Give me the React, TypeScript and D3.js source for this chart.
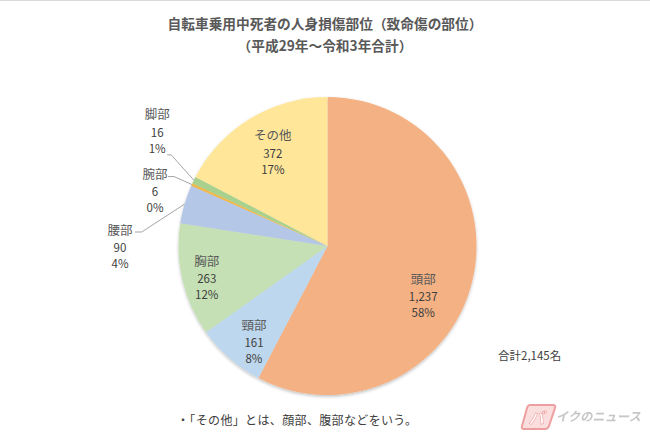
import React from "react";
import * as d3 from "d3";

const categories = ["頭部", "頸部", "胸部", "腰部", "腕部", "脚部", "その他"];
const values = [1237, 161, 263, 90, 6, 16, 372];
const colors = ["#F4B183", "#BDD7EE", "#C5E0B4", "#B4C7E7", "#F0B848", "#A9D18E", "#FFE699"];
const titleLines = ["自転車乗用中死者の人身損傷部位（致命傷の部位）", "（平成29年～令和3年合計）"];
const totalLabel = "合計2,145名";
const footnote = "・「その他」とは、顔部、腹部などをいう。";

// label layout (angle offset in degrees, distance from centre, outside?)
const labelLayout: Record<string, { da: number; r: number; outside: boolean }> = {
  "頭部": { da: 13.8, r: 108, outside: false },
  "頸部": { da: -3.7, r: 121, outside: false },
  "胸部": { da: -1.6, r: 125, outside: false },
  "腰部": { da: -16.6, r: 207.5, outside: true },
  "腕部": { da: -6.7, r: 181, outside: true },
  "脚部": { da: 7.6, r: 205, outside: true },
  "その他": { da: 0.8, r: 108, outside: false },
};
// leader elbow relative to label value position
const leaderLayout: Record<string, { ex: number; ey: number; sx: number }> = {
  "腰部": { ex: 21.7, ey: -15, sx: 15 },
  "腕部": { ex: 19, ey: -14.5, sx: 13 },
  "脚部": { ex: 14, ey: 23, sx: 10 },
};

const W = 650;
const H = 433;
const cx = 327.5;
const cy = 246;
const R = 149;
const FONT = "'Noto Sans CJK JP', 'Noto Sans', sans-serif";

export default function App() {
  const total = d3.sum(values);
  const pie = d3
    .pie<number>()
    .sort(null)
    .value((d) => d)(values);
  const arc = d3.arc<d3.PieArcDatum<number>>().innerRadius(0).outerRadius(R);
  const fmt = d3.format(",");
  const polar = (angDeg: number, r: number): [number, number] => {
    const a = (angDeg * Math.PI) / 180;
    return [cx + r * Math.sin(a), cy - r * Math.cos(a)];
  };

  return (
    <div style={{ position: "absolute", left: 0, top: 0 }}>
      <svg width={W} height={H} style={{ display: "block", background: "#fff" }}>
        <defs>
          <filter id="sh" x="-20%" y="-20%" width="140%" height="140%">
            <feDropShadow dx="0" dy="1.5" stdDeviation="1.5" floodColor="#000" floodOpacity="0.25" />
          </filter>
        </defs>
        <line x1={0} x2={W} y1={0.5} y2={0.5} stroke="#d9d9d9" strokeWidth={1} />
        {titleLines.map((t, i) => (
          <text
            key={i}
            x={325}
            y={23 + i * 22}
            textAnchor="middle"
            dominantBaseline="central"
            fontFamily={FONT}
            fontWeight="bold"
            fontSize={13.7}
            fill="#595959"
          >
            {t}
          </text>
        ))}
        <g transform={`translate(${cx},${cy})`} filter="url(#sh)">
          {pie.map((p, i) => (
            <path key={i} d={arc(p) || ""} fill={colors[i]} stroke="none" />
          ))}
        </g>
        {pie.map((p, i) => {
          const name = categories[i];
          const lay = labelLayout[name];
          const mid = (((p.startAngle + p.endAngle) / 2) * 180) / Math.PI;
          const [lx, ly] = polar(mid + lay.da, lay.r);
          const pct = Math.round((values[i] / total) * 100) + "%";
          let leader = null;
          if (lay.outside) {
            const ll = leaderLayout[name];
            const [ax, ay] = polar(mid, R);
            const pts: [number, number][] = [
              [ax, ay],
              [lx + ll.ex, ly + ll.ey],
              [lx + ll.sx, ly + ll.ey],
            ];
            leader = (
              <path
                d={d3.line()(pts) || ""}
                fill="none"
                stroke="#A6A6A6"
                strokeWidth={1}
              />
            );
          }
          return (
            <g key={i}>
              {leader}
              <text x={lx} y={ly - 18} textAnchor="middle" dominantBaseline="central" fontFamily={FONT} fontSize={12.5} fill="#595959">
                {name}
              </text>
              <text x={lx} y={ly} textAnchor="middle" dominantBaseline="central" fontFamily={FONT} fontSize={11.5} fill="#404040">
                {fmt(values[i])}
              </text>
              <text x={lx} y={ly + 16} textAnchor="middle" dominantBaseline="central" fontFamily={FONT} fontSize={11.5} fill="#404040">
                {pct}
              </text>
            </g>
          );
        })}
        <text x={498} y={355} dominantBaseline="central" fontFamily={FONT} fontSize={11.5} fill="#404040">
          {totalLabel}
        </text>
        <text x={177} y={419} dominantBaseline="central" fontFamily={FONT} fontSize={12} fill="#404040" textLength={240} lengthAdjust="spacing">
          {footnote}
        </text>
        <g opacity={0.55}>
          <path
            d="M530,405 L553,405 Q556,405 555,408 L549,426 Q548,429 545,429 L524,429 Q521,429 522,426 L527,408 Q528,405 530,405 Z"
            fill="#f7c4c4"
            stroke="#e05050"
            strokeWidth={2}
          />
          <g transform="translate(538,417) skewX(-12)">
            <text x={0} y={0} textAnchor="middle" dominantBaseline="central" fontFamily={FONT} fontWeight="bold" fontSize={16} fill="#fff" stroke="#e05050" strokeWidth={0.6}>
              バ
            </text>
          </g>
          <g transform="translate(557,416) skewX(-12)">
            <text x={0} y={0} dominantBaseline="central" fontFamily={FONT} fontWeight="bold" fontSize={12.3} fill="#999">
              イクのニュース
            </text>
          </g>
        </g>
      </svg>
    </div>
  );
}
